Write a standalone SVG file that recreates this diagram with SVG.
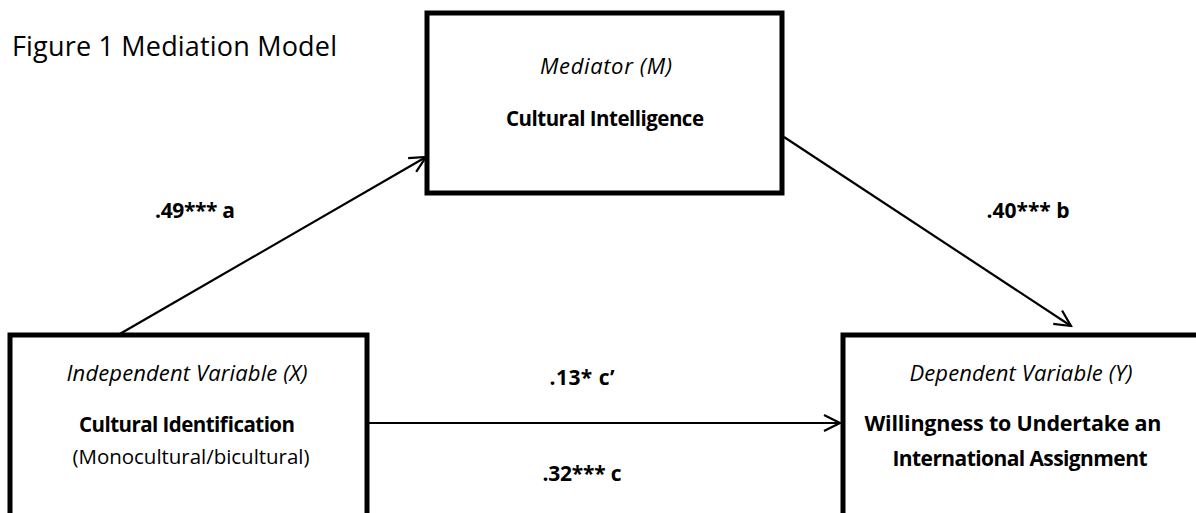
<svg xmlns="http://www.w3.org/2000/svg" width="1196" height="513" viewBox="0 0 1196 513">
<style>
text{font-family:"Open Sans","Liberation Sans",sans-serif;fill:#000;text-anchor:middle}
.box{fill:#fff;stroke:#000;stroke-width:5}
.it{font-style:italic;font-size:22px}
.b{font-weight:bold;font-size:20.5px}
.r{font-size:20.5px}
.lab{font-weight:bold;font-size:21px}
.title{font-size:27px;text-anchor:start}
.con{stroke:#000;stroke-width:2.2;fill:none}
</style>
<defs>
<marker id="arr" viewBox="0 0 20 20" refX="18" refY="10" markerWidth="20" markerHeight="20" markerUnits="userSpaceOnUse" orient="auto">
<path d="M2,2 L18,10 L2,18" fill="none" stroke="#000" stroke-width="2.2"/>
</marker>
</defs>
<text class="title" x="12" y="56" textLength="325">Figure 1 Mediation Model</text>
<g id="connectors">
<line class="con" x1="118" y1="335" x2="426" y2="157" marker-end="url(#arr)"/>
<line class="con" x1="784" y1="137" x2="1071" y2="326" marker-end="url(#arr)"/>
<line class="con" x1="367" y1="423" x2="840" y2="423" marker-end="url(#arr)"/>
<text class="lab" x="195" y="218" textLength="80">.49*** a</text>
<text class="lab" x="1028" y="218" textLength="83">.40*** b</text>
<text class="lab" x="582" y="385" textLength="65">.13* c’</text>
<text class="lab" x="582" y="481" textLength="79">.32*** c</text>
</g>
<g id="mediator">
<rect class="box" x="427" y="13" width="355" height="180"/>
<text class="it" x="606" y="74" textLength="132">Mediator (M)</text>
<text class="b" x="605" y="126" textLength="198">Cultural Intelligence</text>
</g>
<g id="independent">
<rect class="box" x="10" y="335" width="357" height="190"/>
<text class="it" x="187" y="381" textLength="241">Independent Variable (X)</text>
<text class="b" x="187" y="432" textLength="216">Cultural Identification</text>
<text class="r" x="191" y="464" textLength="237">(Monocultural/bicultural)</text>
</g>
<g id="dependent">
<rect class="box" x="843" y="335" width="370" height="190"/>
<text class="it" x="1021" y="381" textLength="223">Dependent Variable (Y)</text>
<text class="b" x="1013" y="431" textLength="297" style="font-size:21.5px">Willingness to Undertake an</text>
<text class="b" x="1020" y="466" textLength="255" style="font-size:21px">International Assignment</text>
</g>
</svg>
